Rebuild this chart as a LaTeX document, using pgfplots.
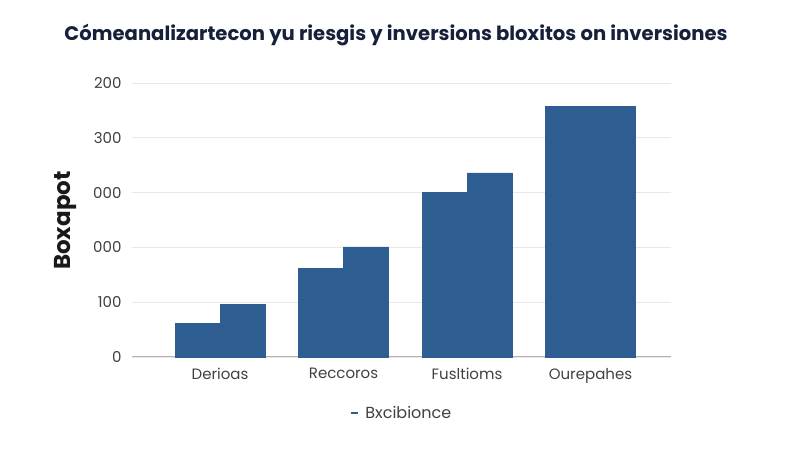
\documentclass[border=0pt]{standalone}
\usepackage{pgfplots}
\pgfplotsset{compat=1.18}
\usepackage{fontspec}
\setmainfont{Poppins}
\definecolor{barblue}{RGB}{46,94,145}
\definecolor{titlenavy}{RGB}{22,32,58}
\definecolor{tickgray}{RGB}{64,64,64}

\begin{document}
\begin{tikzpicture}
\begin{axis}[
    scale only axis,
    clip=false,
    width=539pt, height=274pt,
    ybar=0pt,
    bar width=45pt,
    xmin=-0.713, xmax=3.652,
    ymin=0, ymax=500,
    xtick={0,1,2,3},
    xticklabels={Derioas, Reccoros, Fusltioms, Ourepahes},
    ytick={0,100,200,300,400,500},
    yticklabels={0,100,000,000,300,200},
    ymajorgrids=true,
    grid style={draw=black!9, line width=0.8pt},
    axis x line*=bottom,
    axis y line*=left,
    y axis line style={draw=none},
    x axis line style={draw=black!30, line width=1pt, -},
    major tick length=0pt,
    tick label style={font=\fontsize{15}{18}\selectfont, text=tickgray},
    xticklabel style={yshift=-8pt},
    yticklabel style={xshift=-7pt},
    /pgf/number format/assume math mode=true,
    legend style={draw=none, fill=none, at={(rel axis cs:0.5,-0.204)}, anchor=center,
        font=\fontsize{16}{18}\selectfont, text=tickgray},
    legend image code/.code={\draw[barblue, line width=1.6pt] (0pt,0pt) -- (7pt,0pt);},
    legend cell align=left,
    /tikz/every even column/.append style={column sep=0pt},
]
\addplot[fill=barblue, draw=barblue, line width=0.4pt] coordinates {(0,61) (1,162) (2,301) (3,458)};
\addplot[fill=barblue, draw=barblue, line width=0.4pt] coordinates {(0,96) (1,201) (2,336) (3,458)};
\legend{\hspace{5pt}Bxcibionce}
\coordinate (bl) at (rel axis cs:-0.2449,-0.3394);
\coordinate (tr) at (rel axis cs:1.2393,1.3029);
\node[rotate=90, font=\fontsize{23}{25}\selectfont\bfseries, text=black!90] at (rel axis cs:-0.1225,0.498) {Boxapot};
\node[font=\fontsize{19.6}{22}\selectfont\bfseries, text=titlenavy] at (rel axis cs:0.4898,1.1745) {Cómeanalizartecon yu riesgis y inversions bloxitos on inversiones};
\end{axis}
\pgfresetboundingbox
\path[use as bounding box] (bl) rectangle (tr);
\end{tikzpicture}
\end{document}
